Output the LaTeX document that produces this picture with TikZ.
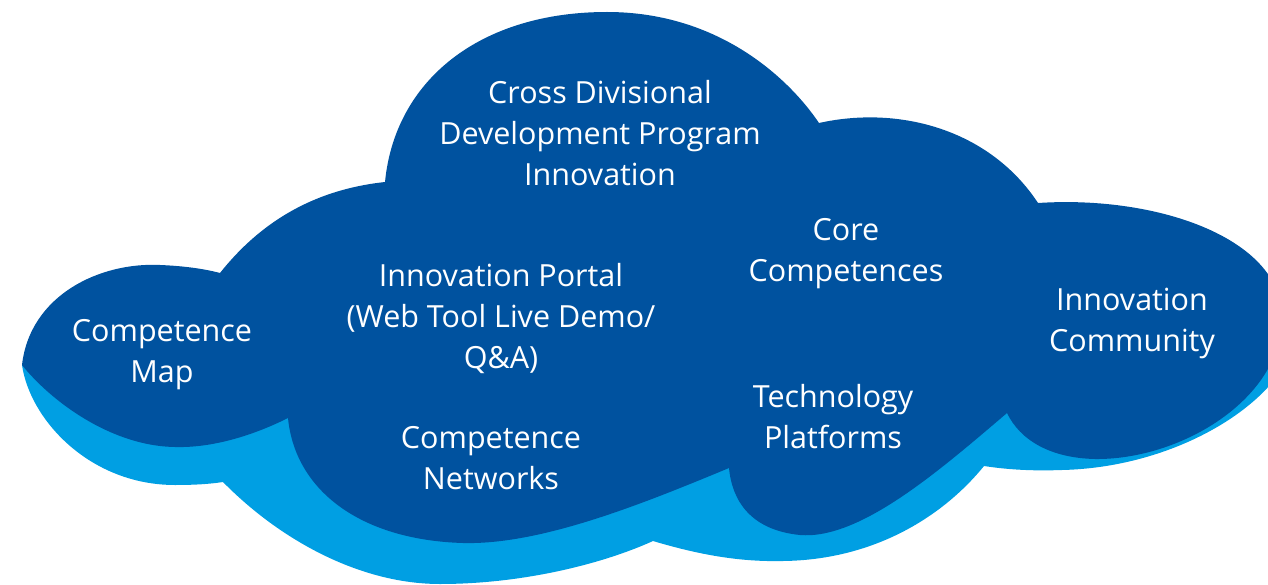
\documentclass[tikz,border=0pt]{standalone}
\usepackage{fontspec}
\setmainfont{Open Sans}
\definecolor{clouddark}{RGB}{0,82,159}
\definecolor{cloudlight}{RGB}{0,159,227}
\begin{document}
\begin{tikzpicture}[x=1pt,y=-1pt,
  label/.style={align=center,text=white,inner sep=0pt,
    font=\fontsize{30.5}{41}\selectfont}]
\useasboundingbox (0,0) rectangle (1268,585);
\clip (0,0) rectangle (1268,585);
% lower, lighter face of the cloud
\fill[cloudlight] (22,365) .. controls (30,420) and (90,485) .. (175,485)
  .. controls (195,485) and (210,484) .. (223,482)
  .. controls (280,540) and (360,584) .. (440,584)
  .. controls (520,584) and (600,565) .. (653,541)
  .. controls (700,555) and (740,562) .. (783,561)
  .. controls (870,560) and (940,520) .. (984,466)
  .. controls (1010,470) and (1035,471) .. (1062,470)
  .. controls (1150,468) and (1230,430) .. (1270,385)
  -- (1282,330) -- (1000,380) -- (730,440) -- (290,400) -- cycle;
% upper face of the cloud
\fill[clouddark] (22,365) .. controls (30,295) and (100,262) .. (160,265)
  .. controls (185,266) and (205,269) .. (220,273)
  .. controls (270,210) and (330,188) .. (385,182)
  .. controls (395,80) and (480,12) .. (607,12)
  .. controls (720,12) and (790,80) .. (819,123)
  .. controls (900,105) and (990,130) .. (1038,203)
  .. controls (1160,195) and (1285,240) .. (1282,320)
  .. controls (1280,400) and (1180,460) .. (1095,459)
  .. controls (1050,458) and (1020,440) .. (1007,413)
  .. controls (940,470) and (860,540) .. (800,535)
  .. controls (750,530) and (732,500) .. (729,468)
  .. controls (640,505) and (540,545) .. (463,543)
  .. controls (360,540) and (295,490) .. (288,418)
  .. controls (250,437) and (210,448) .. (175,447)
  .. controls (110,446) and (50,400) .. cycle;
% topics
\node[label] (cross) at (600,133.5) {Cross Divisional\\Development Program\\Innovation};
\node[label] (core) at (846,254) {Core\\Competences};
\node[label] (portal) at (501,319) {Innovation Portal\\(Web Tool Live Demo/\\Q\&A)};
\node[label] (map) at (162,355) {Competence\\Map};
\node[label] (community) at (1132,323) {Innovation\\Community};
\node[label] (tech) at (833,417) {Technology\\Platforms};
\node[label] (networks) at (491,458) {Competence\\Networks};
\end{tikzpicture}
\end{document}
